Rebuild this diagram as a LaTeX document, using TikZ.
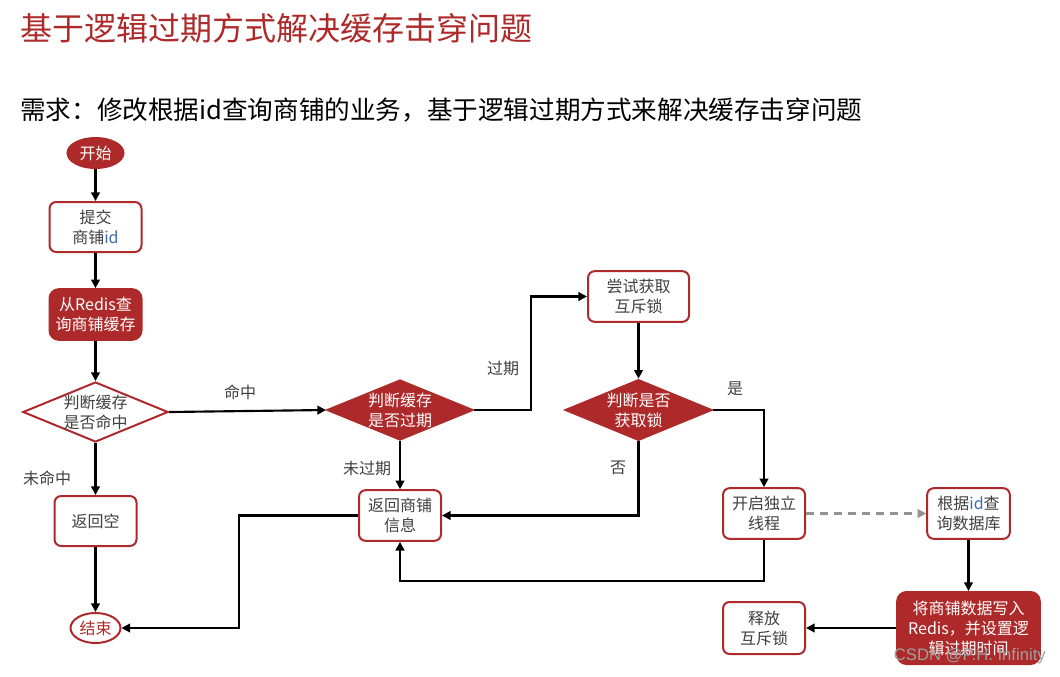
\documentclass[tikz,border=0pt]{standalone}
\usepackage{fontspec}
\setmainfont{Noto Sans CJK SC}
\newfontfamily\wmfont{Liberation Sans}
\usetikzlibrary{shapes.geometric,arrows.meta}
\definecolor{dred}{HTML}{AE2A2A}
\definecolor{tgray}{HTML}{404040}
\definecolor{idblue}{HTML}{3C6EB4}
\begin{document}
\begin{tikzpicture}[x=0.75pt,y=-0.75pt,
  every node/.style={font=\fontsize{12}{15}\selectfont, text=tgray, align=center, inner sep=0pt},
  box/.style={draw=dred, line width=1.5pt, rounded corners=5pt, fill=white},
  fbox/.style={draw=dred, line width=1.5pt, rounded corners=7pt, fill=dred, text=white},
  dia/.style={diamond, draw=dred, line width=1.5pt, fill=white, inner sep=0pt},
  fdia/.style={diamond, draw=dred, line width=1.5pt, fill=dred, inner sep=0pt},
  arr/.style={-{Triangle[length=6.5pt,width=6.5pt]}, line width=1.6pt, black},
  lbl/.style={font=\fontsize{12}{15}\selectfont, text=tgray}
]
\useasboundingbox[fill=white] (0,0) rectangle (1060,676);

% titles
\node[anchor=west, font=\fontsize{24}{28}\selectfont, text=dred] (title) at (20,28) {基于逻辑过期方式解决缓存击穿问题};
\node[anchor=west, font=\fontsize{19.2}{24}\selectfont, text=black] (req) at (20,110) {需求：修改根据id查询商铺的业务，基于逻辑过期方式来解决缓存击穿问题};

% nodes
\node[ellipse, fill=dred, draw=dred, line width=1.5pt, minimum width=42pt, minimum height=22.5pt, text=white] (start) at (95.5,153) {开始};
\node[box, minimum width=69pt, minimum height=37.5pt] (submit) at (95.5,227) {提交\\商铺\textcolor{idblue}{id}};
\node[fbox, minimum width=69pt, minimum height=38pt] (query) at (95.5,314.5) {从Redis查\\询商铺缓存};
\node[dia, minimum width=109pt, minimum height=45pt] (hit) at (95.5,412) {};
\node (hitt) at (hit) {判断缓存\\是否命中};
\node[box, minimum width=61.5pt, minimum height=37.5pt] (ret0) at (95.5,521) {返回空};
\node[ellipse, fill=white, draw=dred, line width=1.5pt, minimum width=37.5pt, minimum height=22.5pt, text=dred] (end) at (95.5,628) {结束};

\node[fdia, minimum width=109.5pt, minimum height=45pt] (exp) at (400,410) {};
\node[text=white] (expt) at (exp) {判断缓存\\是否过期};
\node[box, minimum width=61.5pt, minimum height=38pt] (retinfo) at (400,515.5) {返回商铺\\信息};

\node[box, minimum width=75.75pt, minimum height=38pt] (lock) at (638.5,296.5) {尝试获取\\互斥锁};
\node[fdia, minimum width=110pt, minimum height=45.5pt] (got) at (638.5,410) {};
\node[text=white] (gott) at (got) {判断是否\\获取锁};

\node[box, minimum width=61.5pt, minimum height=38pt] (thread) at (764,513.5) {开启独立\\线程};
\node[box, minimum width=62pt, minimum height=38pt] (db) at (968.5,513.5) {根据\textcolor{idblue}{id}查\\询数据库};
\node[fbox, minimum width=107pt, minimum height=54pt] (write) at (968.5,628) {将商铺数据写入\\Redis，并设置逻\\辑过期时间};
\node[box, minimum width=61.5pt, minimum height=39pt] (release) at (764,628) {释放\\互斥锁};

% labels
\node[lbl] (lhit) at (240,392) {命中};
\node[lbl] (lmiss) at (47,478) {未命中};
\node[lbl] (lexp) at (503,368) {过期};
\node[lbl] (lnexp) at (367,468) {未过期};
\node[lbl] (lno) at (618,468) {否};
\node[lbl] (lyes) at (735,389) {是};

% connectors
\draw[arr] (start) -- (submit);
\draw[arr] (submit) -- (query);
\draw[arr] (query) -- (hit);
\draw[arr] (hit) -- (ret0);
\draw[arr] (ret0) -- (end);
\draw[arr] (hit.east) -- (exp.west);
\draw[arr] (exp.east) -- ++(57,0) |- (lock.west);
\draw[arr] (exp.south) -- (retinfo.north);
\draw[arr] (lock) -- (got);
\draw[arr] (got.south) |- (retinfo.east);
\draw[arr] (got.east) -| (thread.north);
\draw[arr] (thread.south) -- ++(0,41) -| (retinfo.south);
\draw[arr] (retinfo.west) -- ++(-119,0) |- (end.east);
\draw[arr, draw=gray!85, dash pattern=on 6pt off 4.5pt, -{Triangle[length=6.5pt,width=6.5pt,fill=gray!85]}] (thread) -- (db);
\draw[arr] (db) -- (write);
\draw[arr] (write) -- (release);

% watermark
\node[font=\wmfont\fontsize{12.5}{14}\selectfont, text=gray!75, anchor=east] (wm) at (1046,656) {CSDN @P.H. Infinity};
\end{tikzpicture}
\end{document}
